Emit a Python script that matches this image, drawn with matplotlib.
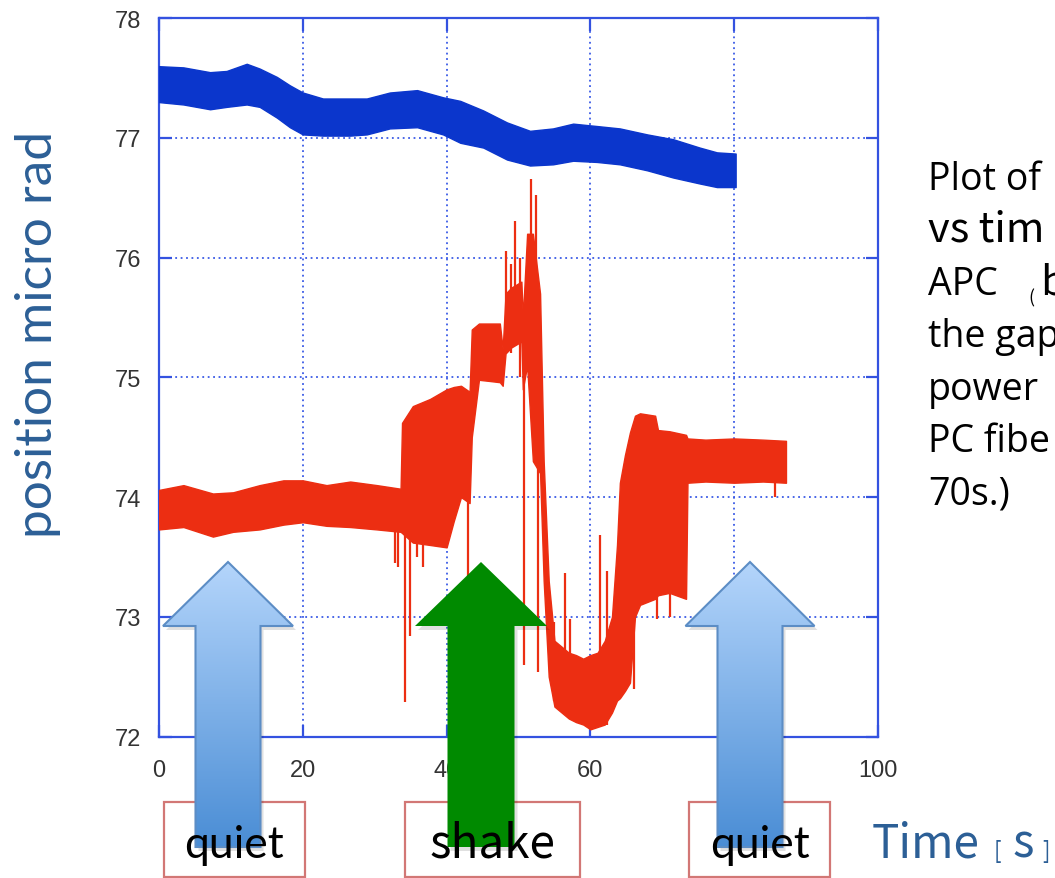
import numpy as np
import matplotlib
matplotlib.use('Agg')
import matplotlib.pyplot as plt
from matplotlib.patches import Polygon, Rectangle
from matplotlib.colors import LinearSegmentedColormap

# blue trace (upper / lower edge of the noise band), micro rad vs time [s]
blue_t = [0, 3.4, 7.1, 9.4, 12.2, 14.0, 16.4, 18.2, 20.0, 22.8, 26.6, 28.9, 32.1,
          35.9, 39.5, 41.9, 45.1, 48.4, 51.6, 54.8, 57.6, 60.9, 64.1, 67.9, 71.5,
          75.2, 77.6, 80.2]
blue_hi = [77.60, 77.59, 77.55, 77.56, 77.62, 77.58, 77.51, 77.44, 77.38, 77.33, 77.33,
           77.33, 77.38, 77.40, 77.34, 77.31, 77.23, 77.13, 77.06, 77.08, 77.12, 77.10,
           77.08, 77.03, 76.99, 76.92, 76.88, 76.87]
blue_lo = [77.30, 77.28, 77.24, 77.26, 77.28, 77.26, 77.17, 77.09, 77.03, 77.02, 77.02,
           77.03, 77.08, 77.09, 77.03, 76.96, 76.92, 76.82, 76.77, 76.78, 76.81, 76.80,
           76.78, 76.73, 76.67, 76.62, 76.59, 76.59]

# red trace envelope
red_t = [0.0, 3.4, 7.5, 10.3, 14.0, 17.3, 20.0, 23.3, 26.6, 30.3, 33.6,
         33.8, 35.3, 37.7, 40.0, 41.0, 42.0, 43.2,
         43.5, 44.5, 46.0, 47.4,
         47.8, 48.2, 49.0, 50.4,
         50.6, 51.2, 52.0, 53.0,
         53.5, 54.2, 55.0, 56.0, 57.0, 58.0, 59.0, 60.0, 61.0, 62.0, 63.0, 63.7,
         64.1, 64.8, 65.5, 66.2, 66.9, 69.0, 69.4, 71.0, 73.3,
         73.5, 76.0, 80.0, 84.0, 87.2]
red_hi = [74.06, 74.10, 74.03, 74.04, 74.10, 74.14, 74.14, 74.10, 74.13, 74.10, 74.07,
          74.62, 74.76, 74.82, 74.90, 74.92, 74.93, 74.88,
          75.40, 75.45, 75.45, 75.45,
          75.24, 75.70, 75.75, 75.80,
          75.50, 76.20, 76.20, 75.70,
          74.30, 73.30, 72.80, 72.75, 72.70, 72.68, 72.65, 72.68, 72.70, 72.80, 73.00, 73.60,
          74.12, 74.35, 74.54, 74.68, 74.70, 74.68, 74.56, 74.55, 74.52,
          74.49, 74.48, 74.49, 74.48, 74.47]
red_lo = [73.73, 73.75, 73.67, 73.71, 73.73, 73.77, 73.79, 73.76, 73.75, 73.73, 73.71,
          73.70, 73.62, 73.60, 73.58, 73.80, 74.00, 73.95,
          74.50, 74.98, 74.97, 74.96,
          74.93, 75.20, 75.25, 75.30,
          74.90, 75.10, 74.30, 74.20,
          73.30, 72.50, 72.25, 72.20, 72.15, 72.12, 72.10, 72.06, 72.08, 72.10, 72.20, 72.30,
          72.32, 72.38, 72.45, 73.00, 73.10, 73.15, 73.18, 73.20, 73.15,
          74.12, 74.13, 74.12, 74.13, 74.12]

# single glitches sticking out of the red band
spike_t = [32.8, 33.2, 34.2, 34.9, 35.9, 36.7, 38.6, 43.0, 48.2, 49.0, 49.5, 50.2,
           50.8, 51.8, 52.4, 52.7, 55.0, 56.5, 57.2, 61.3, 62.3, 66.0, 69.3, 71.1, 85.7]
spike_lo = [73.45, 73.42, 72.29, 72.84, 73.50, 73.42, 73.63, 73.34, 75.20, 75.20, 75.30,
            75.00, 72.60, 75.10, 74.30, 72.54, 72.30, 72.20, 72.20, 72.10, 72.10, 72.40,
            72.98, 73.00, 74.00]
spike_hi = [73.80, 73.80, 73.80, 73.80, 73.80, 73.80, 73.80, 74.00, 76.06, 75.95, 76.31,
            76.00, 75.60, 76.66, 76.52, 74.30, 72.96, 73.37, 72.98, 73.68, 73.38, 73.20,
            73.20, 73.20, 74.20]

x_ticks = [0, 20, 40, 60, 80, 100]
y_ticks = [72, 73, 74, 75, 76, 77, 78]

# slide annotations (label, arrow colour)
marks = [('quiet', 'light'), ('shake', 'green'), ('quiet', 'light')]
note_lines = ['Plot of', 'vs tim', 'APC', 'the gap', 'power', 'PC fibe', '70s.)']

W, H = 1055, 879
BLUE = '#0b36cc'
RED = '#ec2e12'
FRAME = '#3452e0'
TXT_BLUE = '#2c5f96'
num_font = ['Liberation Sans Narrow', 'Liberation Sans', 'DejaVu Sans']

fig = plt.figure(figsize=(W / 100, H / 100), dpi=100)
fig.patch.set_facecolor('white')

ax = fig.add_axes([159 / W, 1 - 737.5 / H, (878 - 159) / W, (737.5 - 19.3) / H])
ax.fill_between(blue_t, blue_lo, blue_hi, color=BLUE, lw=1.0, zorder=3)
ax.fill_between(red_t, red_lo, red_hi, color=RED, lw=1.0, zorder=3)
ax.vlines(spike_t, spike_lo, spike_hi, color=RED, lw=1.6, zorder=3)

ax.set_xlim(0, 100)
ax.set_ylim(72, 78)
ax.set_xticks(x_ticks)
ax.set_yticks(y_ticks)
ax.grid(True, ls=(0, (1, 2)), color='#3a5ae6', lw=1.3, zorder=1)
for s in ax.spines.values():
    s.set_color(FRAME)
    s.set_linewidth(1.6)
ax.tick_params(direction='in', length=9, width=1.6, color=FRAME, top=True, right=True,
               labelcolor='#333333', labelsize=17, labelfontfamily=num_font)
ax.tick_params(axis='y', pad=13)
ax.tick_params(axis='x', pad=16)

# overlay in pixel coordinates for the slide elements
ov = fig.add_axes([0, 0, 1, 1], zorder=5)
ov.patch.set_alpha(0)
ov.axis('off')

light_cmap = LinearSegmentedColormap.from_list('lb', ['#b4d5fb', '#4a8dd5'])
grad = np.linspace(0, 1, 256).reshape(-1, 1)

arrow_geo = [(228, 65, 32.5), (481, 66, 33.5), (750, 64.5, 32.5)]
box_geo = [(164, 305), (405, 580), (689, 830)]
tip_y, base_y, bot_y = 563, 627, 848

for (label, kind), (cx, hh, hs), (bx0, bx1) in zip(marks, arrow_geo, box_geo):
    ov.add_patch(Rectangle((bx0, 803), bx1 - bx0, 75, fill=False,
                           ec='#d27775', lw=1.6, zorder=1))
    pts = [(cx, tip_y), (cx + hh, base_y), (cx + hs, base_y), (cx + hs, bot_y),
           (cx - hs, bot_y), (cx - hs, base_y), (cx - hh, base_y)]
    shadow = Polygon([(x + 3, y + 4) for x, y in pts], closed=True,
                     fc='#000000', alpha=0.12, lw=0, zorder=2)
    ov.add_patch(shadow)
    if kind == 'green':
        ov.add_patch(Polygon(pts, closed=True, fc='#008a00', ec='none', zorder=3))
        fam = ['Noto Sans CJK JP', 'DejaVu Sans']
        fs = 33
    else:
        poly = Polygon(pts, closed=True, fc='none', ec='#5c8dc5', lw=1.5, zorder=4)
        ov.add_patch(poly)
        im = ov.imshow(grad, extent=(cx - hh, cx + hh, bot_y, tip_y), cmap=light_cmap,
                       aspect='auto', origin='upper', zorder=3)
        im.set_clip_path(poly)
        fam = ['Lato', 'DejaVu Sans']
        fs = 32
    ov.text((bx0 + bx1) / 2, 858, label, ha='center', va='baseline', fontsize=fs,
            family=fam, color='black', zorder=6)

# y axis label
ov.text(38, 334, 'position micro rad', rotation=90, ha='center', va='center',
        fontsize=37, family=['Lato', 'DejaVu Sans'], color=TXT_BLUE)

# x axis label
cjk = ['Noto Sans CJK JP', 'DejaVu Sans']
ov.text(872, 858, 'Time', ha='left', va='baseline', fontsize=33, family=cjk, color=TXT_BLUE)
ov.text(994, 858, '[', ha='left', va='baseline', fontsize=16, family=cjk, color=TXT_BLUE)
ov.text(1012, 858, 's', ha='left', va='baseline', fontsize=33, family=cjk, color=TXT_BLUE)
ov.text(1042, 858, ']', ha='left', va='baseline', fontsize=16, family=cjk, color=TXT_BLUE)

# side note (cut by the slide edge, as on the slide)
note_y = [190, 242, 295, 347, 400, 452, 505]
for line, y in zip(note_lines, note_y):
    if line == 'vs tim':
        ov.text(928, y, line, ha='left', va='baseline', fontsize=30, family=cjk,
                color='black')
    else:
        ov.text(928, y, line, ha='left', va='baseline', fontsize=27,
                family=['Open Sans', 'DejaVu Sans'], color='black')
ov.text(1028, 303, '(', ha='left', va='baseline', fontsize=13, family=cjk, color='black')
ov.text(1040, 295, 'b', ha='left', va='baseline', fontsize=30, family=cjk, color='black')

ov.set_xlim(0, W)
ov.set_ylim(H, 0)

fig.savefig('out.png', dpi=100)
